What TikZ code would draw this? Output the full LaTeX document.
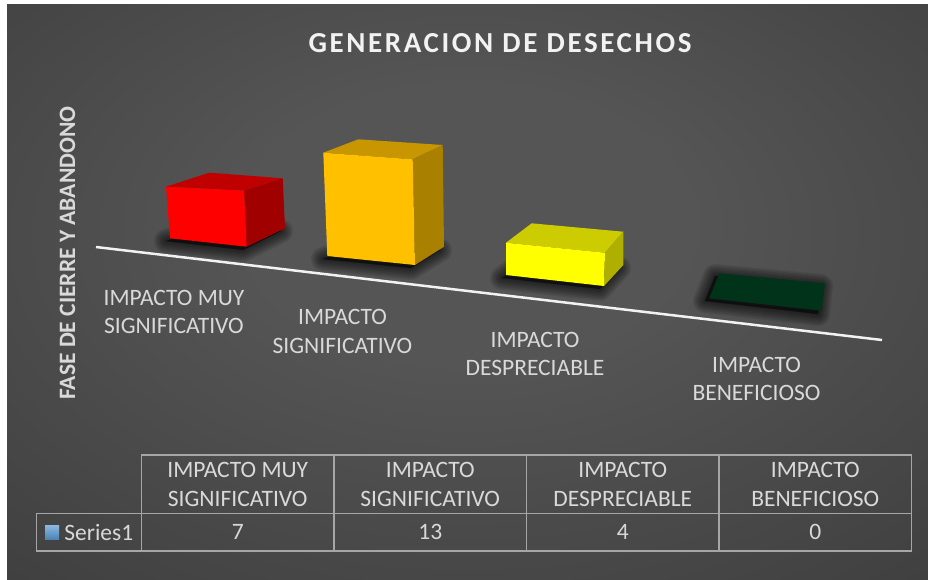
\documentclass[tikz,border=0pt]{standalone}
\usepackage{fontspec}
\setmainfont{Carlito}
\newfontfamily\titlefont[LetterSpace=9]{Carlito}
\usetikzlibrary{positioning}

\definecolor{bgcenter}{HTML}{555555}
\definecolor{bgmid}{HTML}{363636}
\definecolor{bgedge}{HTML}{222222}
\definecolor{labelgray}{HTML}{D9D9D9}
\definecolor{gridgray}{HTML}{A6A6A6}
\definecolor{titlewhite}{HTML}{F2F2F2}
\definecolor{redfront}{HTML}{FF0000}
\definecolor{redtop}{HTML}{C00000}
\definecolor{redside}{HTML}{A00000}
\definecolor{orangefront}{HTML}{FFC000}
\definecolor{orangetop}{HTML}{C89600}
\definecolor{orangeside}{HTML}{A98000}
\definecolor{yellowfront}{HTML}{FFFF00}
\definecolor{yellowtop}{HTML}{CCCC00}
\definecolor{yellowside}{HTML}{AFAF00}
\definecolor{greenflat}{HTML}{00331A}
\definecolor{keyblue}{HTML}{5B9BD5}

\pgfdeclareradialshading{chartbg}{\pgfpoint{0bp}{7bp}}{color(0bp)=(bgcenter); color(12bp)=(bgcenter); color(50bp)=(bgmid); color(75bp)=(bgedge)}

\begin{document}
\begin{tikzpicture}[x=1pt,y=-1pt,
  titletext/.style={text=titlewhite,font=\titlefont\bfseries\fontsize{29}{35}\selectfont,inner sep=0pt},
  axistitle/.style={text=labelgray,font=\bfseries\fontsize{23.5}{28}\selectfont,inner sep=0pt},
  catlabel/.style={text=labelgray,font=\fontsize{23.5}{28.5}\selectfont,align=center,inner sep=0pt},
  cell/.style={draw=gridgray,line width=1.5pt,text=labelgray,font=\fontsize{23.5}{28.5}\selectfont,
    align=center,inner sep=0pt,outer sep=0pt,minimum width=192.5pt},
  headcell/.style={cell,minimum height=58.3pt},
  valcell/.style={cell,minimum height=37.7pt},
  keybox/.style={minimum size=14pt,inner sep=0pt,top color=keyblue!70!white,bottom color=keyblue!85!black},
  shadowpart/.style={fill=black,draw=black,opacity=0.09,line join=round},
  axisline/.style={draw=titlewhite,line width=2.5pt}]
\useasboundingbox (0,0) rectangle (928,579);
\shade[shading=chartbg] (7,4) rectangle (928,579);

% soft shadows under the bars
\foreach \a/\b/\c/\d in {{(170,238)}/{(247,247)}/{(285,228)}/{(213,224)},
    {(327,256)}/{(415,265)}/{(444,247)}/{(362,243)},
    {(506,275)}/{(604,286)}/{(623,265)}/{(532,256)},
    {(719,273)}/{(825,283)}/{(822,311)}/{(709,298)}}
  \foreach \w in {24,21,...,3}
    \filldraw[shadowpart,line width=\w pt,xshift=-4pt,yshift=-3pt] \a -- \b -- \c -- \d -- cycle;

% axis
\coordinate (axL) at (96,247);
\coordinate (axR) at (882,340);
\draw[axisline] (axL) -- (axR);

% bar 7
\fill[redtop] (166,186.7) -- (209.3,172.7) -- (282.7,178.3) -- (244,190.7) -- cycle;
\fill[redside] (244,190.7) -- (282.7,178.3) -- (285,228.3) -- (246.7,246.7) -- cycle;
\fill[redfront] (166,186.7) -- (244,190.7) -- (246.7,246.7) -- (170,238.3) -- cycle;
% bar 13
\fill[orangetop] (323.3,152.7) -- (358.3,139.3) -- (442.7,145) -- (412.7,159.3) -- cycle;
\fill[orangeside] (412.7,159.3) -- (442.7,145) -- (444,246.7) -- (415,265) -- cycle;
\fill[orangefront] (323.3,152.7) -- (412.7,159.3) -- (415,265) -- (327.3,256) -- cycle;
% bar 4
\fill[yellowtop] (506,242.7) -- (531.7,223.3) -- (623.3,231.7) -- (605,252.7) -- cycle;
\fill[yellowside] (605,252.7) -- (623.3,231.7) -- (623.3,265) -- (604,286) -- cycle;
\fill[yellowfront] (506,242.7) -- (605,252.7) -- (604,286) -- (506,275) -- cycle;
% bar 0
\fill[greenflat] (719.3,273.3) -- (825,283.3) -- (821.7,310.7) -- (709.3,298.3) -- cycle;

% texts
\node[titletext] (title) at (500,43) {GENERACION DE DESECHOS};
\node[axistitle,rotate=90] (ytitle) at (67.5,253) {FASE DE CIERRE Y ABANDONO};
\node[catlabel] (cat1) at (174,312) {IMPACTO MUY\\SIGNIFICATIVO};
\node[catlabel] (cat2) at (342.5,331.5) {IMPACTO\\SIGNIFICATIVO};
\node[catlabel] (cat3) at (535,354) {IMPACTO\\DESPRECIABLE};
\node[catlabel] (cat4) at (756.5,379) {IMPACTO\\BENEFICIOSO};

% data table
\node[headcell] (h1) at (237.75,484.2) {IMPACTO MUY\\SIGNIFICATIVO};
\node[headcell,right=0pt of h1] (h2) {IMPACTO\\SIGNIFICATIVO};
\node[headcell,right=0pt of h2] (h3) {IMPACTO\\DESPRECIABLE};
\node[headcell,right=0pt of h3] (h4) {IMPACTO\\BENEFICIOSO};
\node[valcell,below=0pt of h1] (v1) {7};
\node[valcell,below=0pt of h2] (v2) {13};
\node[valcell,below=0pt of h3] (v3) {4};
\node[valcell,below=0pt of h4] (v4) {0};
\node[valcell,minimum width=105pt,left=0pt of v1] (legcell) {};
\node[keybox] (key) at (52,532) {};
\node[text=labelgray,font=\fontsize{23.5}{28.5}\selectfont,inner sep=0pt,right=5pt of key] (ser) {Series1};
\end{tikzpicture}
\end{document}
